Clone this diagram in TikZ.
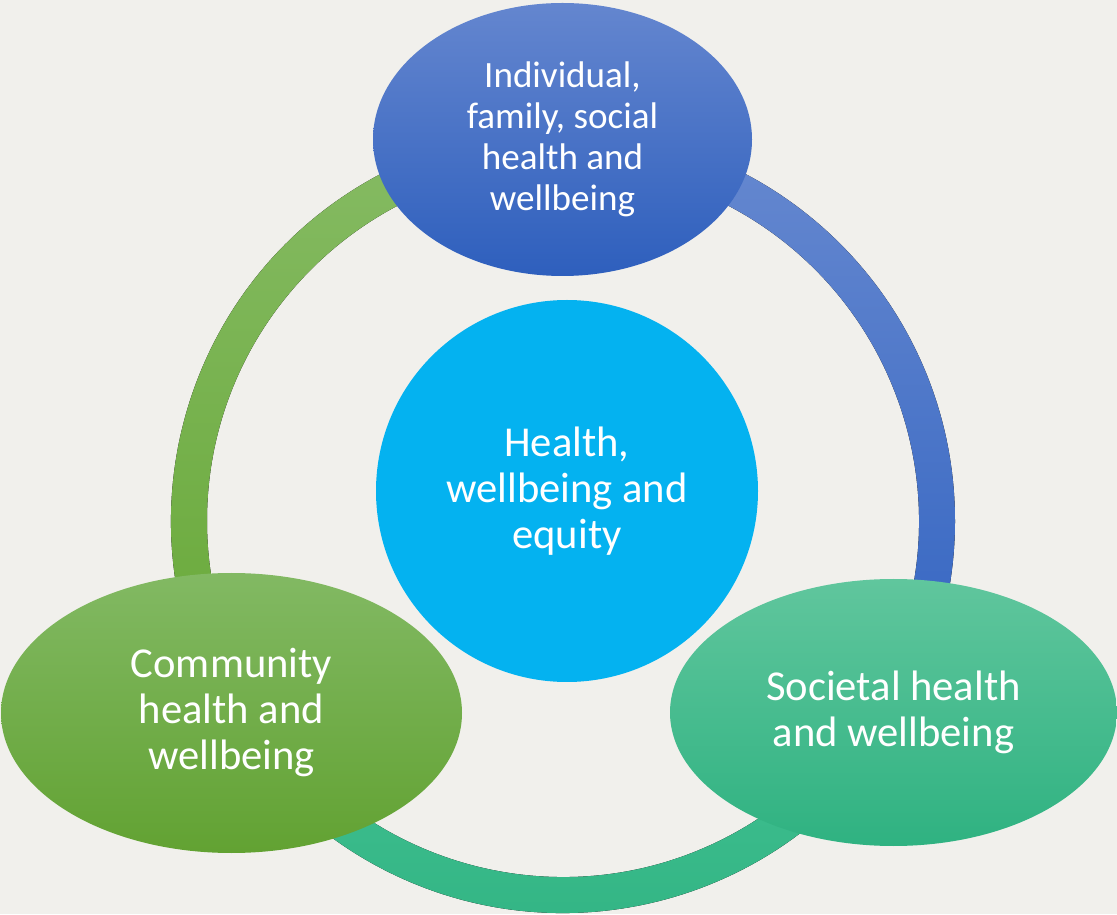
\documentclass[tikz,border=0pt]{standalone}
\usepackage{fontspec}
\setmainfont{Carlito}
\usetikzlibrary{shapes.geometric}
\definecolor{bg}{HTML}{F1F0EC}
\definecolor{blueArcTop}{HTML}{6789D0}
\definecolor{blueArcBot}{HTML}{3163C1}
\definecolor{greenArcTop}{HTML}{86BB64}
\definecolor{greenArcBot}{HTML}{67A836}
\definecolor{tealArcTop}{HTML}{42C192}
\definecolor{tealArcBot}{HTML}{30B382}
\definecolor{blueTop}{HTML}{6486CF}
\definecolor{blueBot}{HTML}{2E5FBD}
\definecolor{greenTop}{HTML}{82B963}
\definecolor{greenBot}{HTML}{62A232}
\definecolor{tealTop}{HTML}{60C69D}
\definecolor{tealBot}{HTML}{2FB281}
\definecolor{core}{HTML}{04B2F0}
\begin{document}
\begin{tikzpicture}[x=1pt,y=1pt,
  lbl/.style={text=white, align=center, inner sep=0pt},
  bigtext/.style={font=\fontsize{42.6}{46}\selectfont},
  smalltext/.style={font=\fontsize{37.1}{41}\selectfont}]
\useasboundingbox (0,0) rectangle (1117,914);
\fill[bg] (0,0) rectangle (1117,914);
\begin{scope}[shift={(563,393)}]
  \fill[top color=blueArcTop, bottom color=blueArcBot]
    (90:392) arc[start angle=90,end angle=-30,radius=392pt]
    -- (-30:356) arc[start angle=-30,end angle=90,radius=356pt] -- cycle;
  \fill[top color=tealArcTop, bottom color=tealArcBot]
    (-30:392) arc[start angle=-30,end angle=-150,radius=392pt]
    -- (-150:356) arc[start angle=-150,end angle=-30,radius=356pt] -- cycle;
  \fill[top color=greenArcTop, bottom color=greenArcBot]
    (210:392) arc[start angle=210,end angle=90,radius=392pt]
    -- (90:356) arc[start angle=90,end angle=210,radius=356pt] -- cycle;
\end{scope}
\node[circle, minimum size=382pt, fill=core, lbl, bigtext] (core) at (567,423)
  {Health,\\wellbeing and\\equity};
\node[ellipse, minimum width=379pt, minimum height=273pt, top color=blueTop, bottom color=blueBot, lbl, smalltext] (indiv) at (562.5,774.5)
  {Individual,\\family, social\\health and\\wellbeing};
\node[ellipse, minimum width=461pt, minimum height=280pt, top color=greenTop, bottom color=greenBot, lbl, bigtext] (comm) at (231.5,201)
  {Community\\health and\\wellbeing};
\node[ellipse, minimum width=447pt, minimum height=267pt, top color=tealTop, bottom color=tealBot, lbl, bigtext] (soc) at (893.5,201.5)
  {Societal health\\and wellbeing};
\end{tikzpicture}
\end{document}
